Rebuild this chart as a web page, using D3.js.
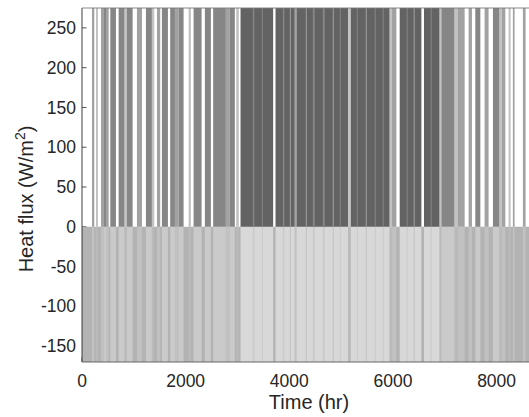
<!DOCTYPE html>
<html>
<head>
<meta charset="utf-8">
<script src="https://cdn.jsdelivr.net/npm/d3@7"></script>
<style>
  html, body { margin: 0; padding: 0; background: #fff; }
  svg { display: block; }
  text { font-family: "Liberation Sans", Arial, Helvetica, sans-serif; fill: #262626; }
</style>
</head>
<body>
<svg id="chart" width="529" height="417"></svg>
<script>
// ---- data ----
const xTicks = [0, 2000, 4000, 6000, 8000];
const yTicks = [-150, -100, -50, 0, 50, 100, 150, 200, 250];
const xDomain = [0, 8760];
const yDomain = [-170, 275];
// runs of hours with positive heat flux: start hour, end hour, density level (1 sparse .. 4 dense)
const runStartHr = [193, 270, 366, 424, 463, 546, 707, 823, 867, 1060, 1234, 1349, 1446, 1542, 1702, 1793, 1864, 2057, 2153, 2371, 2531, 2776, 2853, 2975, 3059, 3734, 4106, 4139, 5134, 5186, 5937, 5982, 6130, 6599, 6901, 6934, 7190, 7254, 7460, 7589, 7768, 7929, 8058, 8102, 8231, 8314, 8507];
const runEndHr   = [237, 308, 424, 463, 515, 655, 823, 867, 977, 1157, 1349, 1394, 1509, 1658, 1793, 1864, 1960, 2101, 2307, 2487, 2776, 2853, 2949, 3026, 3688, 4106, 4139, 5134, 5186, 5937, 5982, 6066, 6548, 6901, 6934, 7190, 7254, 7383, 7524, 7686, 7845, 8058, 8102, 8168, 8270, 8347, 8559];
const runLevel   = [2, 1, 2, 3, 2, 3, 3, 1, 3, 2, 3, 1, 2, 3, 3, 2, 3, 1, 3, 3, 3, 2, 3, 1, 4, 4, 2, 4, 1, 4, 1, 2, 4, 4, 1, 3, 1, 2, 2, 3, 2, 3, 1, 2, 1, 2, 2];
// thinner stretches inside the dense summer runs (fewer positive hours)
const streakStartHr = [3296, 3470, 3875, 4010, 4318, 4453, 4646, 4839, 4974, 5302, 5475, 5648, 5803, 6265, 6400, 6728];
const streakEndHr   = [3325, 3489, 3904, 4029, 4337, 4491, 4684, 4858, 4993, 5321, 5494, 5668, 5822, 6284, 6419, 6747];
const streakLevel   = [3, 3, 3, 2, 2, 3, 3, 2, 3, 3, 2, 3, 3, 3, 2, 3];

const runs = runStartHr.map((s, i) => ({ s, e: runEndHr[i], lvl: runLevel[i] }))
  .concat(streakStartHr.map((s, i) => ({ s, e: streakEndHr[i], lvl: streakLevel[i] })));

// ---- layout ----
const svg = d3.select("#chart");
const mLeft = 82, mRight = 536, mTop = 8, mBottom = 362;
const x = d3.scaleLinear().domain(xDomain).range([mLeft, mRight]);
const y = d3.scaleLinear().domain(yDomain).range([mBottom, mTop]);

const topColor = ["#ffffff", "#c2c2c2", "#a2a2a2", "#868686", "#636363"];
const botColor = ["#b3b3b3", "#bababa", "#c1c1c1", "#cacaca", "#d8d8d8"];

svg.append("defs").append("clipPath").attr("id", "clip")
  .append("rect").attr("x", mLeft).attr("y", mTop).attr("width", mRight - mLeft).attr("height", mBottom - mTop);

// ticks (beneath data)
const tickLen = 4.5;
const axisG = svg.append("g");
axisG.selectAll("line.yt").data(yTicks).enter().append("line")
  .attr("x1", mLeft).attr("x2", mLeft + tickLen)
  .attr("y1", d => y(d)).attr("y2", d => y(d))
  .attr("stroke", "#262626").attr("stroke-width", 0.8);
axisG.selectAll("line.xt").data(xTicks).enter().append("line")
  .attr("x1", d => x(d)).attr("x2", d => x(d))
  .attr("y1", mBottom).attr("y2", mBottom - tickLen)
  .attr("stroke", "#262626").attr("stroke-width", 0.8);

const plot = svg.append("g").attr("clip-path", "url(#clip)");

// negative background: all hours negative
plot.append("rect")
  .attr("x", x(xDomain[0])).attr("width", x(xDomain[1]) - x(xDomain[0]))
  .attr("y", y(0)).attr("height", y(yDomain[0]) - y(0))
  .attr("fill", botColor[0]);

// negative part lightened where positive hours interrupt
plot.selectAll("rect.neg").data(runs).enter().append("rect")
  .attr("x", d => x(d.s)).attr("width", d => x(d.e) - x(d.s))
  .attr("y", y(0)).attr("height", y(yDomain[0]) - y(0))
  .attr("fill", d => botColor[d.lvl]);

// positive bars
plot.selectAll("rect.pos").data(runs).enter().append("rect")
  .attr("x", d => x(d.s)).attr("width", d => x(d.e) - x(d.s))
  .attr("y", y(yDomain[1])).attr("height", y(0) - y(yDomain[1]))
  .attr("fill", d => topColor[d.lvl]);

// frame
svg.append("line").attr("x1", mLeft).attr("x2", mLeft).attr("y1", mTop).attr("y2", mBottom)
  .attr("stroke", "#262626").attr("stroke-width", 0.9);
svg.append("line").attr("x1", mLeft).attr("x2", mRight).attr("y1", mBottom).attr("y2", mBottom)
  .attr("stroke", "#5a5a5a").attr("stroke-width", 0.9);
svg.append("line").attr("x1", mLeft).attr("x2", mRight).attr("y1", mTop).attr("y2", mTop)
  .attr("stroke", "#7a7a7a").attr("stroke-width", 0.9);

// tick labels
svg.selectAll("text.yl").data(yTicks).enter().append("text")
  .attr("x", 76).attr("y", d => y(d)).attr("dy", "0.35em")
  .attr("text-anchor", "end").attr("font-size", 17.5)
  .text(d => d);
svg.selectAll("text.xl").data(xTicks).enter().append("text")
  .attr("x", d => x(d)).attr("y", 387)
  .attr("text-anchor", "middle").attr("font-size", 17.5)
  .text(d => d);

// axis titles
svg.append("text").attr("x", 309).attr("y", 409)
  .attr("text-anchor", "middle").attr("font-size", 20)
  .text("Time (hr)");
const yl = svg.append("text")
  .attr("transform", "translate(33,199) rotate(-90)")
  .attr("text-anchor", "middle").attr("font-size", 20);
yl.append("tspan").text("Heat flux (W/m");
yl.append("tspan").attr("dy", -8).attr("font-size", 14).text("2");
yl.append("tspan").attr("dy", 8).text(")");
</script>
</body>
</html>
